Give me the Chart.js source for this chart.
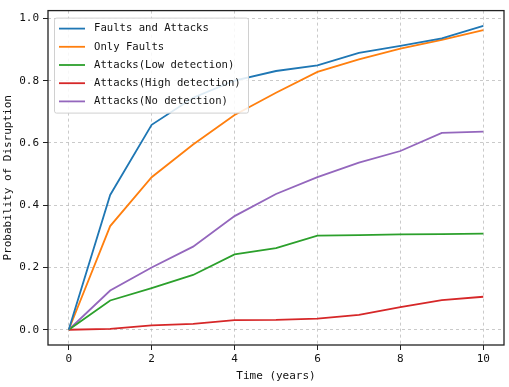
<!DOCTYPE html>
<html>
<head>
<meta charset="utf-8">
<script src="https://cdn.jsdelivr.net/npm/chart.js@4/dist/chart.umd.min.js"></script>
<style>
  html, body { margin: 0; padding: 0; background: #fff; }
  #wrap { width: 509px; height: 387px; }
</style>
</head>
<body>
<div id="wrap"><canvas id="c" width="509" height="387"></canvas></div>
<script>
const years = [0, 1, 2, 3, 4, 5, 6, 7, 8, 9, 10];
const faultsAndAttacks = [0, 0.433, 0.658, 0.745, 0.8, 0.831, 0.849, 0.889, 0.912, 0.936, 0.976];
const onlyFaults = [0, 0.333, 0.49, 0.595, 0.69, 0.761, 0.828, 0.868, 0.903, 0.931, 0.962];
const lowDetection = [0, 0.094, 0.134, 0.176, 0.242, 0.262, 0.302, 0.304, 0.306, 0.307, 0.309];
const highDetection = [0, 0.003, 0.014, 0.019, 0.031, 0.032, 0.036, 0.048, 0.073, 0.095, 0.106];
const noDetection = [0, 0.126, 0.2, 0.267, 0.365, 0.436, 0.49, 0.537, 0.574, 0.632, 0.636];

const xTicks = [0, 2, 4, 6, 8, 10];
const yTicks = [0, 0.2, 0.4, 0.6, 0.8, 1.0];

const font = "'DejaVu Sans Mono', monospace";

const series = [
  { label: "Faults and Attacks", data: faultsAndAttacks, color: "#1f77b4" },
  { label: "Only Faults", data: onlyFaults, color: "#ff7f0e" },
  { label: "Attacks(Low detection)", data: lowDetection, color: "#2ca02c" },
  { label: "Attacks(High detection)", data: highDetection, color: "#d62728" },
  { label: "Attacks(No detection)", data: noDetection, color: "#9467bd" },
];

const datasets = series.map((s) => ({
  label: s.label,
  data: years.map((x, i) => ({ x, y: s.data[i] })),
  borderColor: s.color,
  backgroundColor: s.color,
  borderWidth: 1.8,
  pointRadius: 0,
  tension: 0,
}));

// frame round the plot area + legend box inside it
const framePlugin = {
  id: "frame",
  afterDatasetsDraw(chart) {
    const { ctx, chartArea: a } = chart;
    ctx.save();
    ctx.strokeStyle = "#222";
    ctx.lineWidth = 1.3;
    ctx.strokeRect(a.left, a.top, a.right - a.left, a.bottom - a.top);

    // legend
    const bx = a.left + 6, by = a.top + 7, bw = 194, bh = 95;
    ctx.fillStyle = "rgba(255,255,255,0.85)";
    ctx.strokeStyle = "#d0d0d0";
    ctx.lineWidth = 1;
    ctx.beginPath();
    ctx.roundRect(bx + 0.5, by + 0.5, bw, bh, 2);
    ctx.fill();
    ctx.stroke();
    ctx.font = "10.6px " + font;
    ctx.textBaseline = "middle";
    chart.data.datasets.forEach((d, i) => {
      const y = by + 11 + i * 18.2;
      ctx.strokeStyle = d.borderColor;
      ctx.lineWidth = 1.8;
      ctx.beginPath();
      ctx.moveTo(bx + 5, y);
      ctx.lineTo(bx + 31, y);
      ctx.stroke();
      ctx.fillStyle = "#111";
      ctx.fillText(d.label, bx + 40, y);
    });
    ctx.restore();
  },
};

const gridOpts = {
  color: "rgba(176,176,176,0.85)",
  lineWidth: 0.8,
  tickColor: "#222",
  tickLength: 5,
  tickWidth: 1,
  tickBorderDash: [],
};

new Chart(document.getElementById("c"), {
  type: "line",
  data: { datasets },
  plugins: [framePlugin],
  options: {
    responsive: false,
    animation: false,
    layout: { padding: { top: 3, right: 5, left: 0, bottom: 0 } },
    plugins: {
      legend: { display: false },
      tooltip: { enabled: false },
    },
    scales: {
      x: {
        type: "linear",
        min: -0.5,
        max: 10.5,
        afterBuildTicks: (s) => { s.ticks = xTicks.map((v) => ({ value: v })); },
        afterFit: (s) => { s.height = 42; },
        ticks: {
          color: "#111",
          font: { family: font, size: 11 },
          padding: 3,
          maxRotation: 0,
          callback: (v) => String(v),
        },
        grid: gridOpts,
        border: { display: false, dash: [3, 3] },
        title: {
          display: true,
          text: "Time (years)",
          color: "#111",
          font: { family: font, size: 11 },
          padding: { top: 0, bottom: 4 },
        },
      },
      y: {
        type: "linear",
        min: -0.049,
        max: 1.025,
        afterBuildTicks: (s) => { s.ticks = yTicks.map((v) => ({ value: v })); },
        afterFit: (s) => { s.width = 48; },
        ticks: {
          color: "#111",
          font: { family: font, size: 11 },
          padding: 4,
          callback: (v) => v.toFixed(1),
        },
        grid: gridOpts,
        border: { display: false, dash: [3, 3] },
        title: {
          display: true,
          text: "Probability of Disruption",
          color: "#111",
          font: { family: font, size: 11 },
          padding: { top: 2, bottom: 0 },
        },
      },
    },
  },
});
</script>
</body>
</html>
